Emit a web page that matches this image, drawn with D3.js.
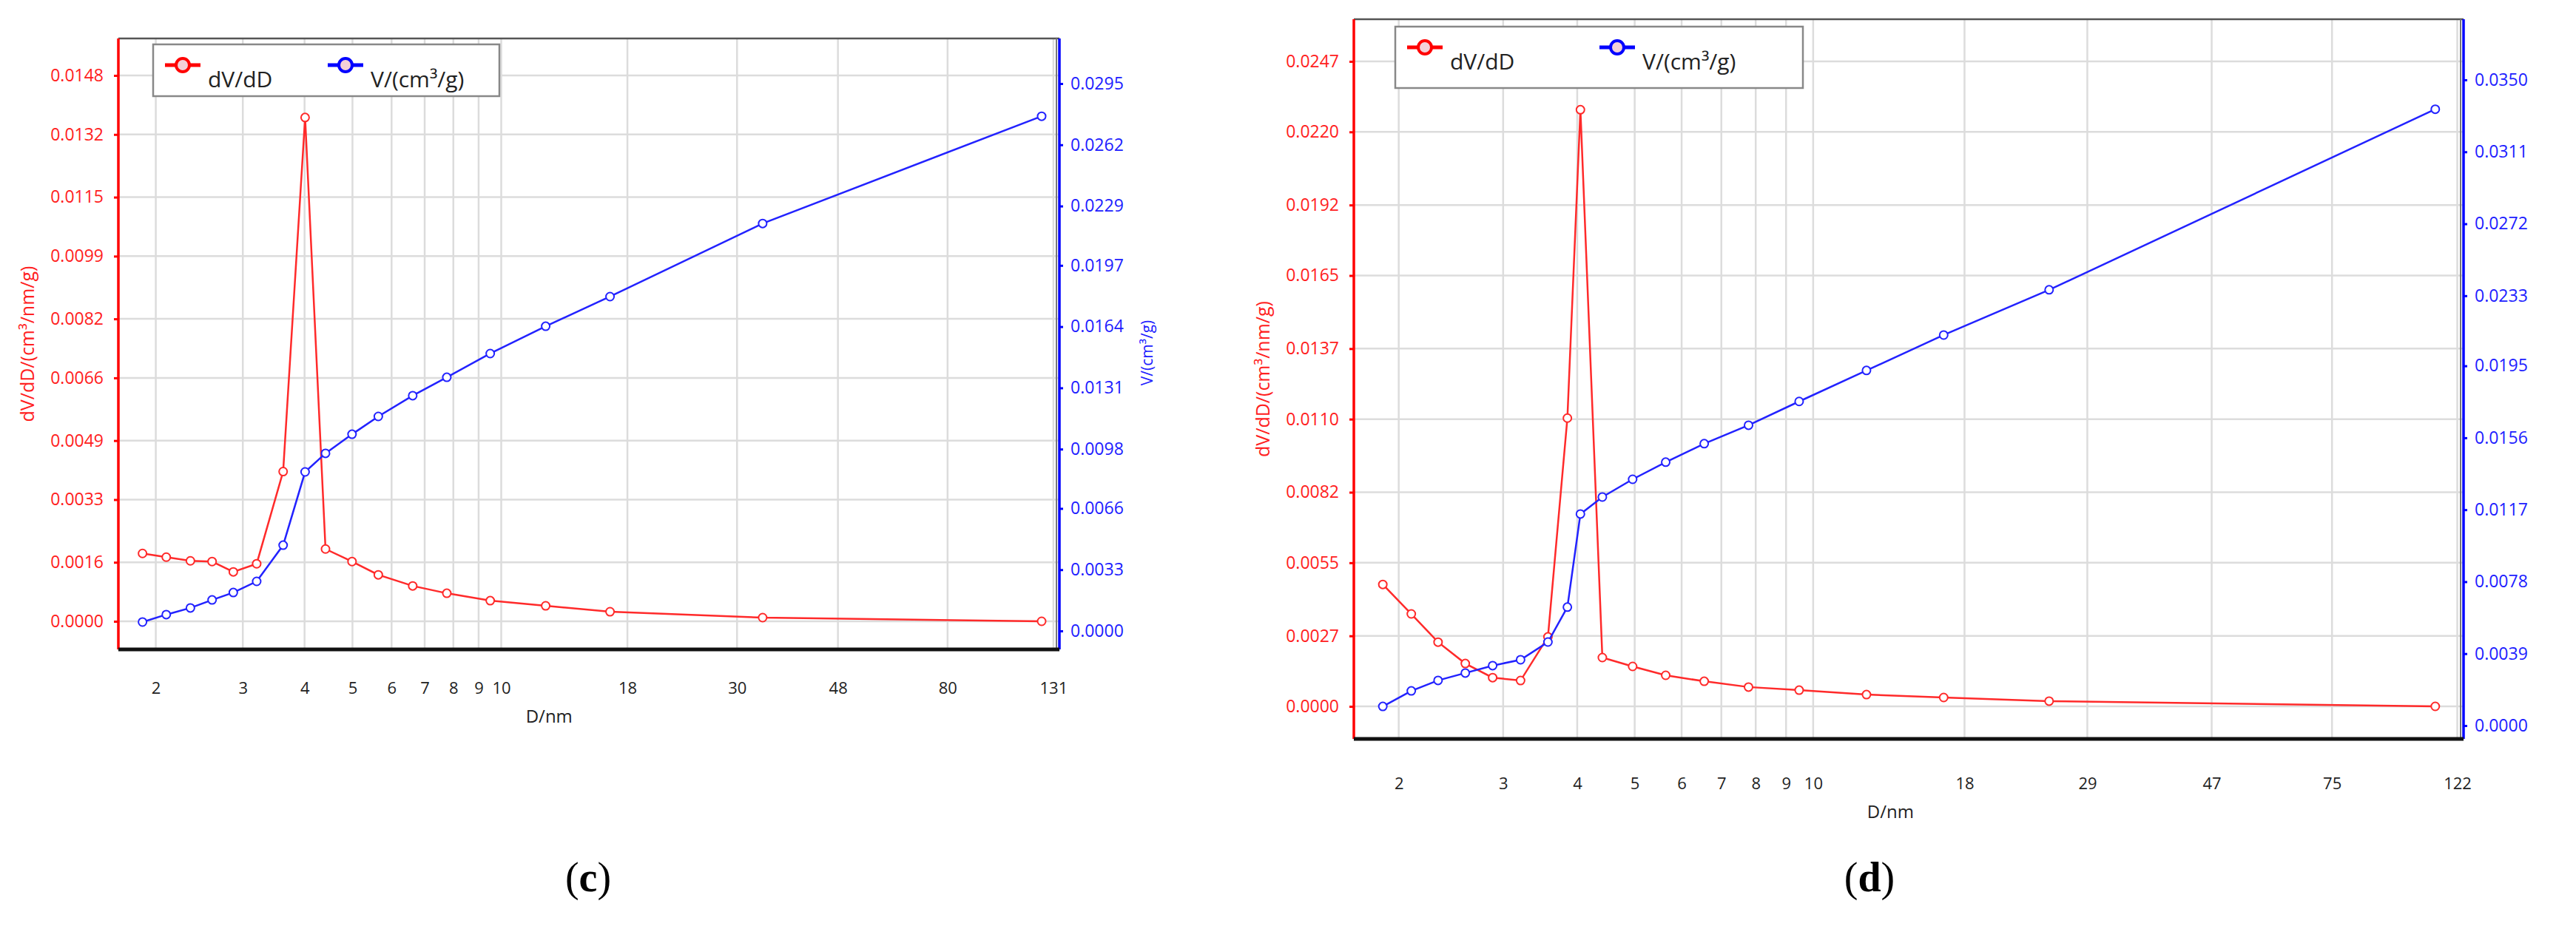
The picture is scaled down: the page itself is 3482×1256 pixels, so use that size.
<!DOCTYPE html>
<html><head><meta charset="utf-8">
<script src="https://cdn.jsdelivr.net/npm/d3@7"></script>
<style>body{margin:0;background:#fff}svg{display:block}</style>
</head><body>
<svg id="c" width="3482" height="1256"></svg>
<script>
// Panel (c)
const dC = [1.88,2.10,2.35,2.60,2.87,3.20,3.62,4.01,4.41,4.99,5.64,6.62,7.76,9.5,12.3,16.6,33.8,124];
const dvdDC = [0.00184,0.00174,0.00164,0.00162,0.00134,0.00156,0.00406,0.01366,0.00196,0.00162,0.00126,0.00096,0.00076,0.00056,0.00042,0.00026,0.0001,0.0];
const vC = [0.00048,0.00088,0.00124,0.00167,0.00207,0.00267,0.00462,0.00857,0.00957,0.0106,0.01156,0.01268,0.01367,0.01495,0.01642,0.01802,0.02196,0.02774];
const xTicksC = [2,3,4,5,6,7,8,9,10,18,30,48,80,131];
const leftTicksC = ["0.0000","0.0016","0.0033","0.0049","0.0066","0.0082","0.0099","0.0115","0.0132","0.0148"];
const rightTicksC = ["0.0000","0.0033","0.0066","0.0098","0.0131","0.0164","0.0197","0.0229","0.0262","0.0295"];
// Panel (d)
const dD = [1.88,2.10,2.33,2.59,2.88,3.21,3.57,3.85,4.05,4.41,4.96,5.64,6.55,7.78,9.47,12.3,16.6,25.0,112];
const dvdDD = [0.00467,0.00354,0.00246,0.00164,0.00110,0.00099,0.00266,0.01104,0.02285,0.00187,0.00153,0.00119,0.00096,0.00074,0.00062,0.00045,0.00034,0.0002,0.0];
const vD = [0.00104,0.00188,0.00245,0.00285,0.00325,0.00357,0.00453,0.00642,0.01147,0.01239,0.01335,0.01428,0.01528,0.01628,0.01757,0.01925,0.02117,0.02362,0.03341];
const xTicksD = [2,3,4,5,6,7,8,9,10,18,29,47,75,122];
const leftTicksD = ["0.0000","0.0027","0.0055","0.0082","0.0110","0.0137","0.0165","0.0192","0.0220","0.0247"];
const rightTicksD = ["0.0000","0.0039","0.0078","0.0117","0.0156","0.0195","0.0233","0.0272","0.0311","0.0350"];

const svg = d3.select("#c");
const FONT = "'Open Sans','Noto Sans',sans-serif";

function panel(o){
  const g = svg.append("g");
  const x = d3.scaleLog().domain(o.xdom).range([o.L,o.R]);
  const lt = o.lt.map(Number), rt = o.rt.map(Number);
  const yl = d3.scaleLinear().domain([0, lt[lt.length-1]]).range([o.y0L,o.y1L]);
  const yr = d3.scaleLinear().domain([0, rt[rt.length-1]]).range([o.y0R,o.y1R]);
  g.selectAll(".vg").data(o.xt).join("line").attr("x1",d=>x(d)).attr("x2",d=>x(d))
    .attr("y1",o.T).attr("y2",o.B).attr("stroke","#dcdcdc").attr("stroke-width",2.5);
  g.selectAll(".hg").data(lt).join("line").attr("x1",o.L).attr("x2",o.R)
    .attr("y1",d=>yl(d)).attr("y2",d=>yl(d)).attr("stroke","#dcdcdc").attr("stroke-width",2.5);
  g.append("line").attr("x1",o.L).attr("x2",o.R).attr("y1",o.T).attr("y2",o.T).attr("stroke","#555").attr("stroke-width",2.5);
  g.append("line").attr("x1",o.R-4).attr("x2",o.R-4).attr("y1",o.T).attr("y2",o.B).attr("stroke","#777").attr("stroke-width",2);
  const la = g.append("g").attr("transform",`translate(${o.L},0)`)
    .call(d3.axisLeft(yl).tickValues(lt).tickFormat((d,i)=>o.lt[i]).tickSize(6).tickPadding(14));
  la.select(".domain").remove();
  la.append("line").attr("x1",0).attr("x2",0).attr("y1",o.T).attr("y2",o.B).attr("stroke","#ff0000").attr("stroke-width",3.5);
  la.selectAll(".tick line").attr("stroke","#ff0000").attr("stroke-width",3);
  la.selectAll("text").attr("fill","#ff2020").style("font-family",FONT).style("font-size","23px");
  const ra = g.append("g").attr("transform",`translate(${o.R},0)`)
    .call(d3.axisRight(yr).tickValues(rt).tickFormat((d,i)=>o.rt[i]).tickSize(5).tickPadding(10));
  ra.select(".domain").remove();
  ra.append("line").attr("x1",0).attr("x2",0).attr("y1",o.T).attr("y2",o.B).attr("stroke","#0000ff").attr("stroke-width",3.5);
  ra.selectAll(".tick line").attr("stroke","#0000ff").attr("stroke-width",3);
  ra.selectAll("text").attr("fill","#2020ff").style("font-family",FONT).style("font-size","23px");
  const ba = g.append("g").attr("transform",`translate(0,${o.B})`)
    .call(d3.axisBottom(x).tickValues(o.xt).tickFormat(d3.format("d")).tickSize(0).tickPadding(o.xpad));
  ba.select(".domain").remove();
  ba.append("line").attr("x1",o.L).attr("x2",o.R).attr("stroke","#111").attr("stroke-width",5);
  ba.selectAll("text").attr("fill","#222").style("font-family",FONT).style("font-size","22px");
  g.append("text").attr("x",x(o.titleAt)).attr("y",o.B+o.xpad+55).attr("text-anchor","middle")
    .style("font-family",FONT).style("font-size","24px").attr("fill","#222").text("D/nm");
  g.append("text").attr("transform",`translate(${o.L-114},${(o.T+o.B)/2}) rotate(-90)`).attr("text-anchor","middle")
    .style("font-family",FONT).style("font-size","25px").attr("fill","#ff2020").text("dV/dD/(cm³/nm/g)");
  if(o.rightTitle) g.append("text").attr("transform",`translate(${o.R+126},${(o.T+o.B)/2+12}) rotate(-90)`).attr("text-anchor","middle")
    .style("font-family",FONT).style("font-size","21px").attr("fill","#2020ff").text("V/(cm³/g)");
  const series = [{d:o.red,s:yl,c:"#ff2a2a"},{d:o.blue,s:yr,c:"#2222ff"}];
  series.forEach(S=>{
    const pts = o.xs.map((v,i)=>[x(v),S.s(S.d[i])]);
    g.append("path").attr("d",d3.line()(pts)).attr("fill","none").attr("stroke",S.c).attr("stroke-width",2.5);
    g.selectAll(null).data(pts).join("circle").attr("cx",p=>p[0]).attr("cy",p=>p[1]).attr("r",5.5)
      .attr("fill","#fff").attr("stroke",S.c).attr("stroke-width",2);
  });
  const lg = g.append("g");
  lg.append("rect").attr("x",o.lg[0]).attr("y",o.lg[1]).attr("width",o.lg[2]).attr("height",o.lg[3])
    .attr("fill","#fff").attr("stroke","#888").attr("stroke-width",2.5);
  [["dV/dD","#ff0000",o.lg[0]+16],["V/(cm³/g)","#0000ff",o.lg[0]+o.lg[4]]].forEach(([t,c,lx])=>{
    const ly = o.lg[1]+28;
    lg.append("line").attr("x1",lx).attr("x2",lx+48).attr("y1",ly).attr("y2",ly).attr("stroke",c).attr("stroke-width",5);
    lg.append("circle").attr("cx",lx+24).attr("cy",ly).attr("r",9).attr("fill","#f4d0d8").attr("stroke",c).attr("stroke-width",4);
    lg.append("text").attr("x",lx+58).attr("y",ly+30).style("font-family",FONT).style("font-size","30px").attr("fill","#222").text(t);
  });
  const lab = g.append("text").attr("x",o.labX).attr("y",1205).attr("text-anchor","middle")
    .style("font-family","'Liberation Serif',serif").style("font-size","56px");
  lab.append("tspan").text("(");
  lab.append("tspan").style("font-weight","bold").text(o.lab);
  lab.append("tspan").text(")");
}

panel({L:160,R:1432,T:52,B:878,y0L:840,y1L:102,y0R:853,y1R:113,xdom:[1.68,134.7],
  xs:dC,red:dvdDC,blue:vC,xt:xTicksC,lt:leftTicksC,rt:rightTicksC,xpad:44,titleAt:12.5,
  rightTitle:true,lg:[207,60,468,70,236],labX:795,lab:"c"});
panel({L:1830,R:3330,T:26,B:999,y0L:955,y1L:83,y0R:981,y1R:108,xdom:[1.68,125],
  xs:dD,red:dvdDD,blue:vD,xt:xTicksD,lt:leftTicksD,rt:rightTicksD,xpad:52,titleAt:13.5,
  rightTitle:false,lg:[1886,36,551,83,276],labX:2527,lab:"d"});
</script>
</body></html>
